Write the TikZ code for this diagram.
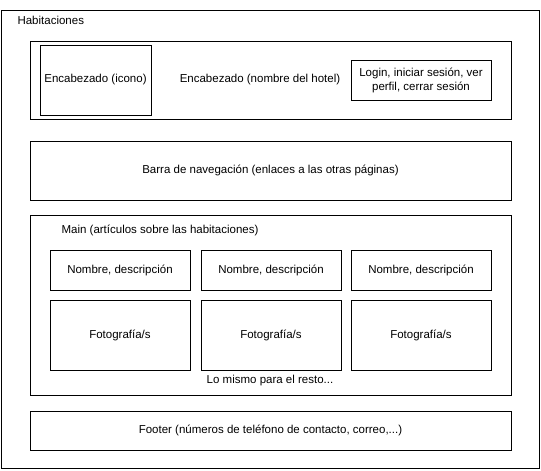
\documentclass[tikz,border=0pt]{standalone}
\usepackage{fontspec}
\setmainfont{Liberation Sans}
\usetikzlibrary{positioning}

\begin{document}
\begin{tikzpicture}[x=1pt,y=-1pt,caja/.style = {draw, rectangle, line width=0.9pt, inner sep=0pt, align=center}]
				\useasboundingbox (0,0) rectangle (541,471);
				\begin{scope}[every node/.style={font=\fontsize{11.5}{14}\selectfont}]
					\node[caja, minimum width=538, minimum height=458] (pagina) at (270,239) {};
					\node[anchor=west] (titulo) at (14,20) {Habitaciones};
					\node[caja, minimum width=481, minimum height=78] (cabecera) at (270.5,80) {};
					\node[caja, minimum width=111, minimum height=70] (icono) at (95.5,80) {Encabezado (icono)};
					\node (hotel) at (260,80) {Encabezado (nombre del hotel)};
					\node[caja, minimum width=140, minimum height=40] (login) at (421,80) {Login, iniciar sesión, ver\\perfil, cerrar sesión};
					\node[caja, minimum width=481, minimum height=59] (nav) at (270.5,170.5) {Barra de navegación (enlaces a las otras páginas)};
					\node[caja, minimum width=481, minimum height=180] (main) at (270.5,305) {};
					\node (maintxt) at (160,230) {Main (artículos sobre las habitaciones)};
					\node[caja, minimum width=140, minimum height=40] (nombreA) at (120,270) {Nombre, descripción};
					\node[caja, minimum width=140, minimum height=40] (nombreB) at (271,270) {Nombre, descripción};
					\node[caja, minimum width=140, minimum height=40] (nombreC) at (421,270) {Nombre, descripción};
					\node[caja, minimum width=140, minimum height=70] (fotoA) at (120,335) {Fotografía/s};
					\node[caja, minimum width=140, minimum height=70] (fotoB) at (271,335) {Fotografía/s};
					\node[caja, minimum width=140, minimum height=70] (fotoC) at (421,335) {Fotografía/s};
					\node (resto) at (270,381) {Lo mismo para el resto...};
					\node[caja, minimum width=481, minimum height=39] (footer) at (270.5,430.5) {Footer (números de teléfono de contacto, correo,...)};
				\end{scope}
			\end{tikzpicture}
\end{document}
